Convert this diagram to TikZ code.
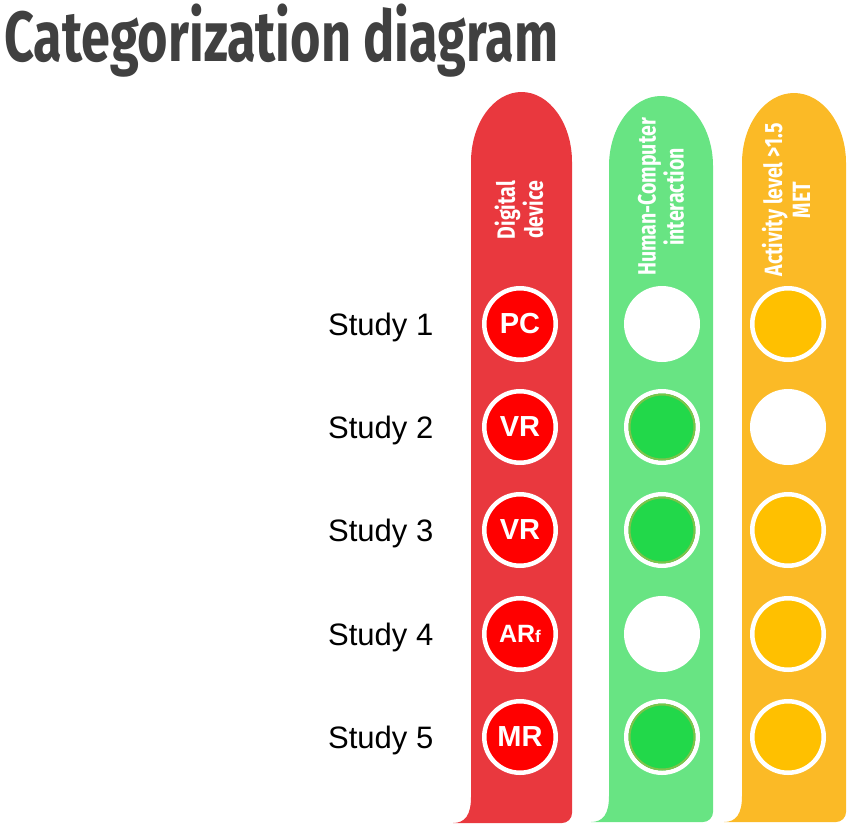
\documentclass[tikz,border=0pt]{standalone}
\usepackage{fontspec}
\setmainfont{Liberation Sans}
\newfontfamily\titlefont[FakeStretch=0.735]{Fira Sans}
\newfontfamily\hdrfont[FakeStretch=0.78]{Fira Sans}
\definecolor{titlegray}{HTML}{404040}
\definecolor{redcol}{HTML}{E9383E}
\definecolor{redfill}{HTML}{FF0000}
\definecolor{greencol}{HTML}{68E483}
\definecolor{greenfill}{HTML}{22D84A}
\definecolor{greenring}{HTML}{7DC34A}
\definecolor{orangecol}{HTML}{FBBA26}
\definecolor{orangefill}{HTML}{FFC000}
\tikzset{
  hdr/.style={rotate=90, align=center, text=white, inner sep=0pt,
    font=\hdrfont\bfseries\fontsize{25}{28}\selectfont},
  studylbl/.style={anchor=base west, inner sep=0pt, font=\fontsize{31}{31}\selectfont},
  digcirc/.style={circle, fill=redfill, draw=white, line width=4.5pt, minimum size=71.5pt,
    inner sep=0pt, text=white, font=\bfseries\fontsize{29}{29}\selectfont},
  hcicirc/.style={circle, fill=greenfill, draw=white, line width=4.5pt, minimum size=71.5pt, inner sep=0pt},
  actcirc/.style={circle, fill=orangefill, draw=white, line width=4.5pt, minimum size=71.5pt, inner sep=0pt},
  emptycirc/.style={circle, fill=white, minimum size=76pt, inner sep=0pt},
  hciring/.style={draw=greenring, line width=2pt}
}
\begin{document}
\begin{tikzpicture}[x=1pt,y=1pt]
\useasboundingbox (0,0) rectangle (851,-830);
% title
\node[anchor=base west, inner sep=0pt, text=titlegray,
  font=\titlefont\bfseries\fontsize{71}{71}\selectfont] (title) at (4,-61) {Categorization diagram};
% columns
\fill[redcol] (453,-823) .. controls (465,-823) and (471,-815) .. (471,-797) -- (471,-162)
  arc[start angle=180,end angle=0,x radius=50.5,y radius=70] -- (572,-813)
  arc[start angle=0,end angle=-90,radius=10] -- cycle;
\fill[greencol] (591,-822) .. controls (603,-822) and (609,-814) .. (609,-796) -- (609,-166)
  arc[start angle=180,end angle=0,x radius=52,y radius=70] -- (713,-812)
  arc[start angle=0,end angle=-90,radius=10] -- cycle;
\fill[orangecol] (724,-822) .. controls (736,-822) and (742,-814) .. (742,-796) -- (742,-163)
  arc[start angle=180,end angle=0,x radius=52,y radius=70] -- (846,-812)
  arc[start angle=0,end angle=-90,radius=10] -- cycle;
% headers
\node[hdr] (h1) at (519,-210) {Digital\\device};
\node[hdr] (h2) at (661,-197) {Human-Computer\\interaction};
\node[hdr] (h3) at (786,-200) {Activity level >1.5\\MET};
% study labels
\node[studylbl] (s1) at (328,-335) {Study 1};
\node[studylbl] (s2) at (328,-438) {Study 2};
\node[studylbl] (s3) at (328,-541) {Study 3};
\node[studylbl] (s4) at (328,-645) {Study 4};
\node[studylbl] (s5) at (328,-748) {Study 5};
% digital device circles
\node[digcirc] (d1) at (520,-324) {PC};
\node[digcirc] (d2) at (520,-427) {VR};
\node[digcirc] (d3) at (520,-530) {VR};
\node[digcirc, font=\bfseries\fontsize{25}{25}\selectfont] (d4) at (520,-634) {AR{\fontsize{17}{17}\selectfont f}};
\node[digcirc] (d5) at (520,-737) {MR};
% HCI circles
\node[emptycirc] (c1) at (662,-324) {};
\node[hcicirc] (c2) at (662,-427) {};
\draw[hciring] (c2.center) circle[radius=32.5];
\node[hcicirc] (c3) at (662,-530) {};
\draw[hciring] (c3.center) circle[radius=32.5];
\node[emptycirc] (c4) at (662,-634) {};
\node[hcicirc] (c5) at (662,-737) {};
\draw[hciring] (c5.center) circle[radius=32.5];
% activity circles
\node[actcirc] (a1) at (788,-324) {};
\node[emptycirc] (a2) at (788,-427) {};
\node[actcirc] (a3) at (788,-530) {};
\node[actcirc] (a4) at (788,-634) {};
\node[actcirc] (a5) at (788,-737) {};
\end{tikzpicture}
\end{document}
